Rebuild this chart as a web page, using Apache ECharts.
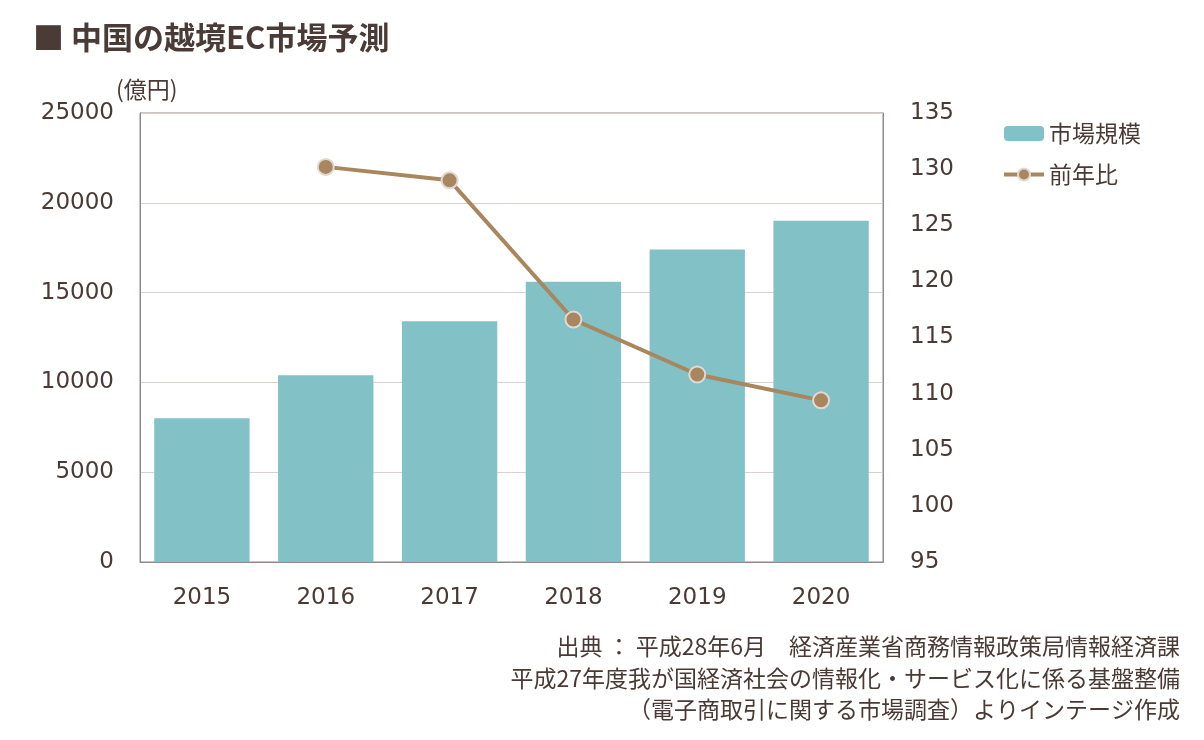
<!DOCTYPE html>
<html lang="ja">
<head>
    <meta charset="UTF-8">
    <script src="https://cdn.jsdelivr.net/npm/echarts@6/dist/echarts.min.js"></script>
    <style>
        body { margin: 0; background: #fff; }
        #main { width: 1204px; height: 740px; }
    </style>
</head>
<body>
    <div id="main"></div>
    <script type="text/javascript">
        // データ
        var years = ['2015', '2016', '2017', '2018', '2019', '2020'];
        var marketSize = [8000, 10400, 13400, 15600, 17400, 19000];   // 億円
        var yoy = [null, 130.2, 129.0, 116.6, 111.7, 109.4];          // 前年比
        var sourceLines = [
            '出典 ： 平成28年6月　経済産業省商務情報政策局情報経済課',
            '平成27年度我が国経済社会の情報化・サービス化に係る基盤整備',
            '（電子商取引に関する市場調査）よりインテージ作成'
        ];

        var textColor = '#4b3a34';
        var font = '"Noto Sans CJK JP", "DejaVu Sans", sans-serif';
        var numFont = '"DejaVu Sans", "Noto Sans CJK JP", sans-serif';

        var myChart = echarts.init(document.getElementById('main'));
        var option = {
            backgroundColor: '#fff',
            animation: false,
            title: {
                text: '■ 中国の越境EC市場予測',
                left: 28,
                top: 17,
                textStyle: { fontFamily: font, fontSize: 31, fontWeight: 'bold', color: '#4a3b36' }
            },
            legend: {
                orient: 'vertical',
                left: 997,
                top: 117,
                itemWidth: 40,
                itemHeight: 15,
                itemGap: 18,
                textStyle: { fontFamily: font, fontSize: 23, color: textColor },
                data: [
                    { name: '市場規模' },
                    { name: '前年比', lineStyle: { width: 4 } }
                ]
            },
            grid: { left: 140, right: 321, top: 113, bottom: 178, show: true, borderColor: '#8f8a89', borderWidth: 1 },
            xAxis: {
                type: 'category',
                data: years,
                axisLine: { show: true, lineStyle: { color: '#8f8a89' } },
                axisTick: { show: false },
                axisLabel: { fontFamily: numFont, fontSize: 23, color: textColor, margin: 25 }
            },
            yAxis: [
                {
                    type: 'value',
                    min: 0, max: 25000, interval: 5000,
                    name: '(億円)',
                    nameLocation: 'end',
                    nameGap: 12,
                    nameTextStyle: { fontFamily: font, fontSize: 23, color: textColor, align: 'left', padding: [0, 0, 0, -24] },
                    axisLine: { show: true, lineStyle: { color: '#8f8a89' } },
                    axisLabel: {
                        fontFamily: numFont, fontSize: 23, color: textColor, margin: 26,
                        formatter: function (v) { return String(v); }
                    },
                    splitLine: { lineStyle: { color: '#ddd0cc' } }
                },
                {
                    type: 'value',
                    min: 95, max: 135, interval: 5,
                    axisLine: { show: true, lineStyle: { color: '#8f8a89' } },
                    axisLabel: { fontFamily: numFont, fontSize: 23, color: textColor, margin: 27 },
                    splitLine: { show: false }
                }
            ],
            series: [
                {
                    name: '市場規模',
                    type: 'bar',
                    data: marketSize,
                    barWidth: '77%',
                    itemStyle: { color: '#82c2c6' }
                },
                {
                    name: '前年比',
                    type: 'line',
                    yAxisIndex: 1,
                    data: yoy,
                    symbol: 'circle',
                    symbolSize: 16,
                    lineStyle: { color: '#a8865e', width: 4 },
                    itemStyle: { color: '#a8865e', borderColor: '#e2d8d3', borderWidth: 2 }
                }
            ],
            graphic: sourceLines.map(function (t, i) {
                return {
                    type: 'text',
                    right: 24,
                    top: 635 + i * 31.5,
                    style: { text: t, fontFamily: font, fontSize: 23, fill: textColor, textAlign: 'right' }
                };
            })
        };
        myChart.setOption(option);
    </script>
</body>
</html>
